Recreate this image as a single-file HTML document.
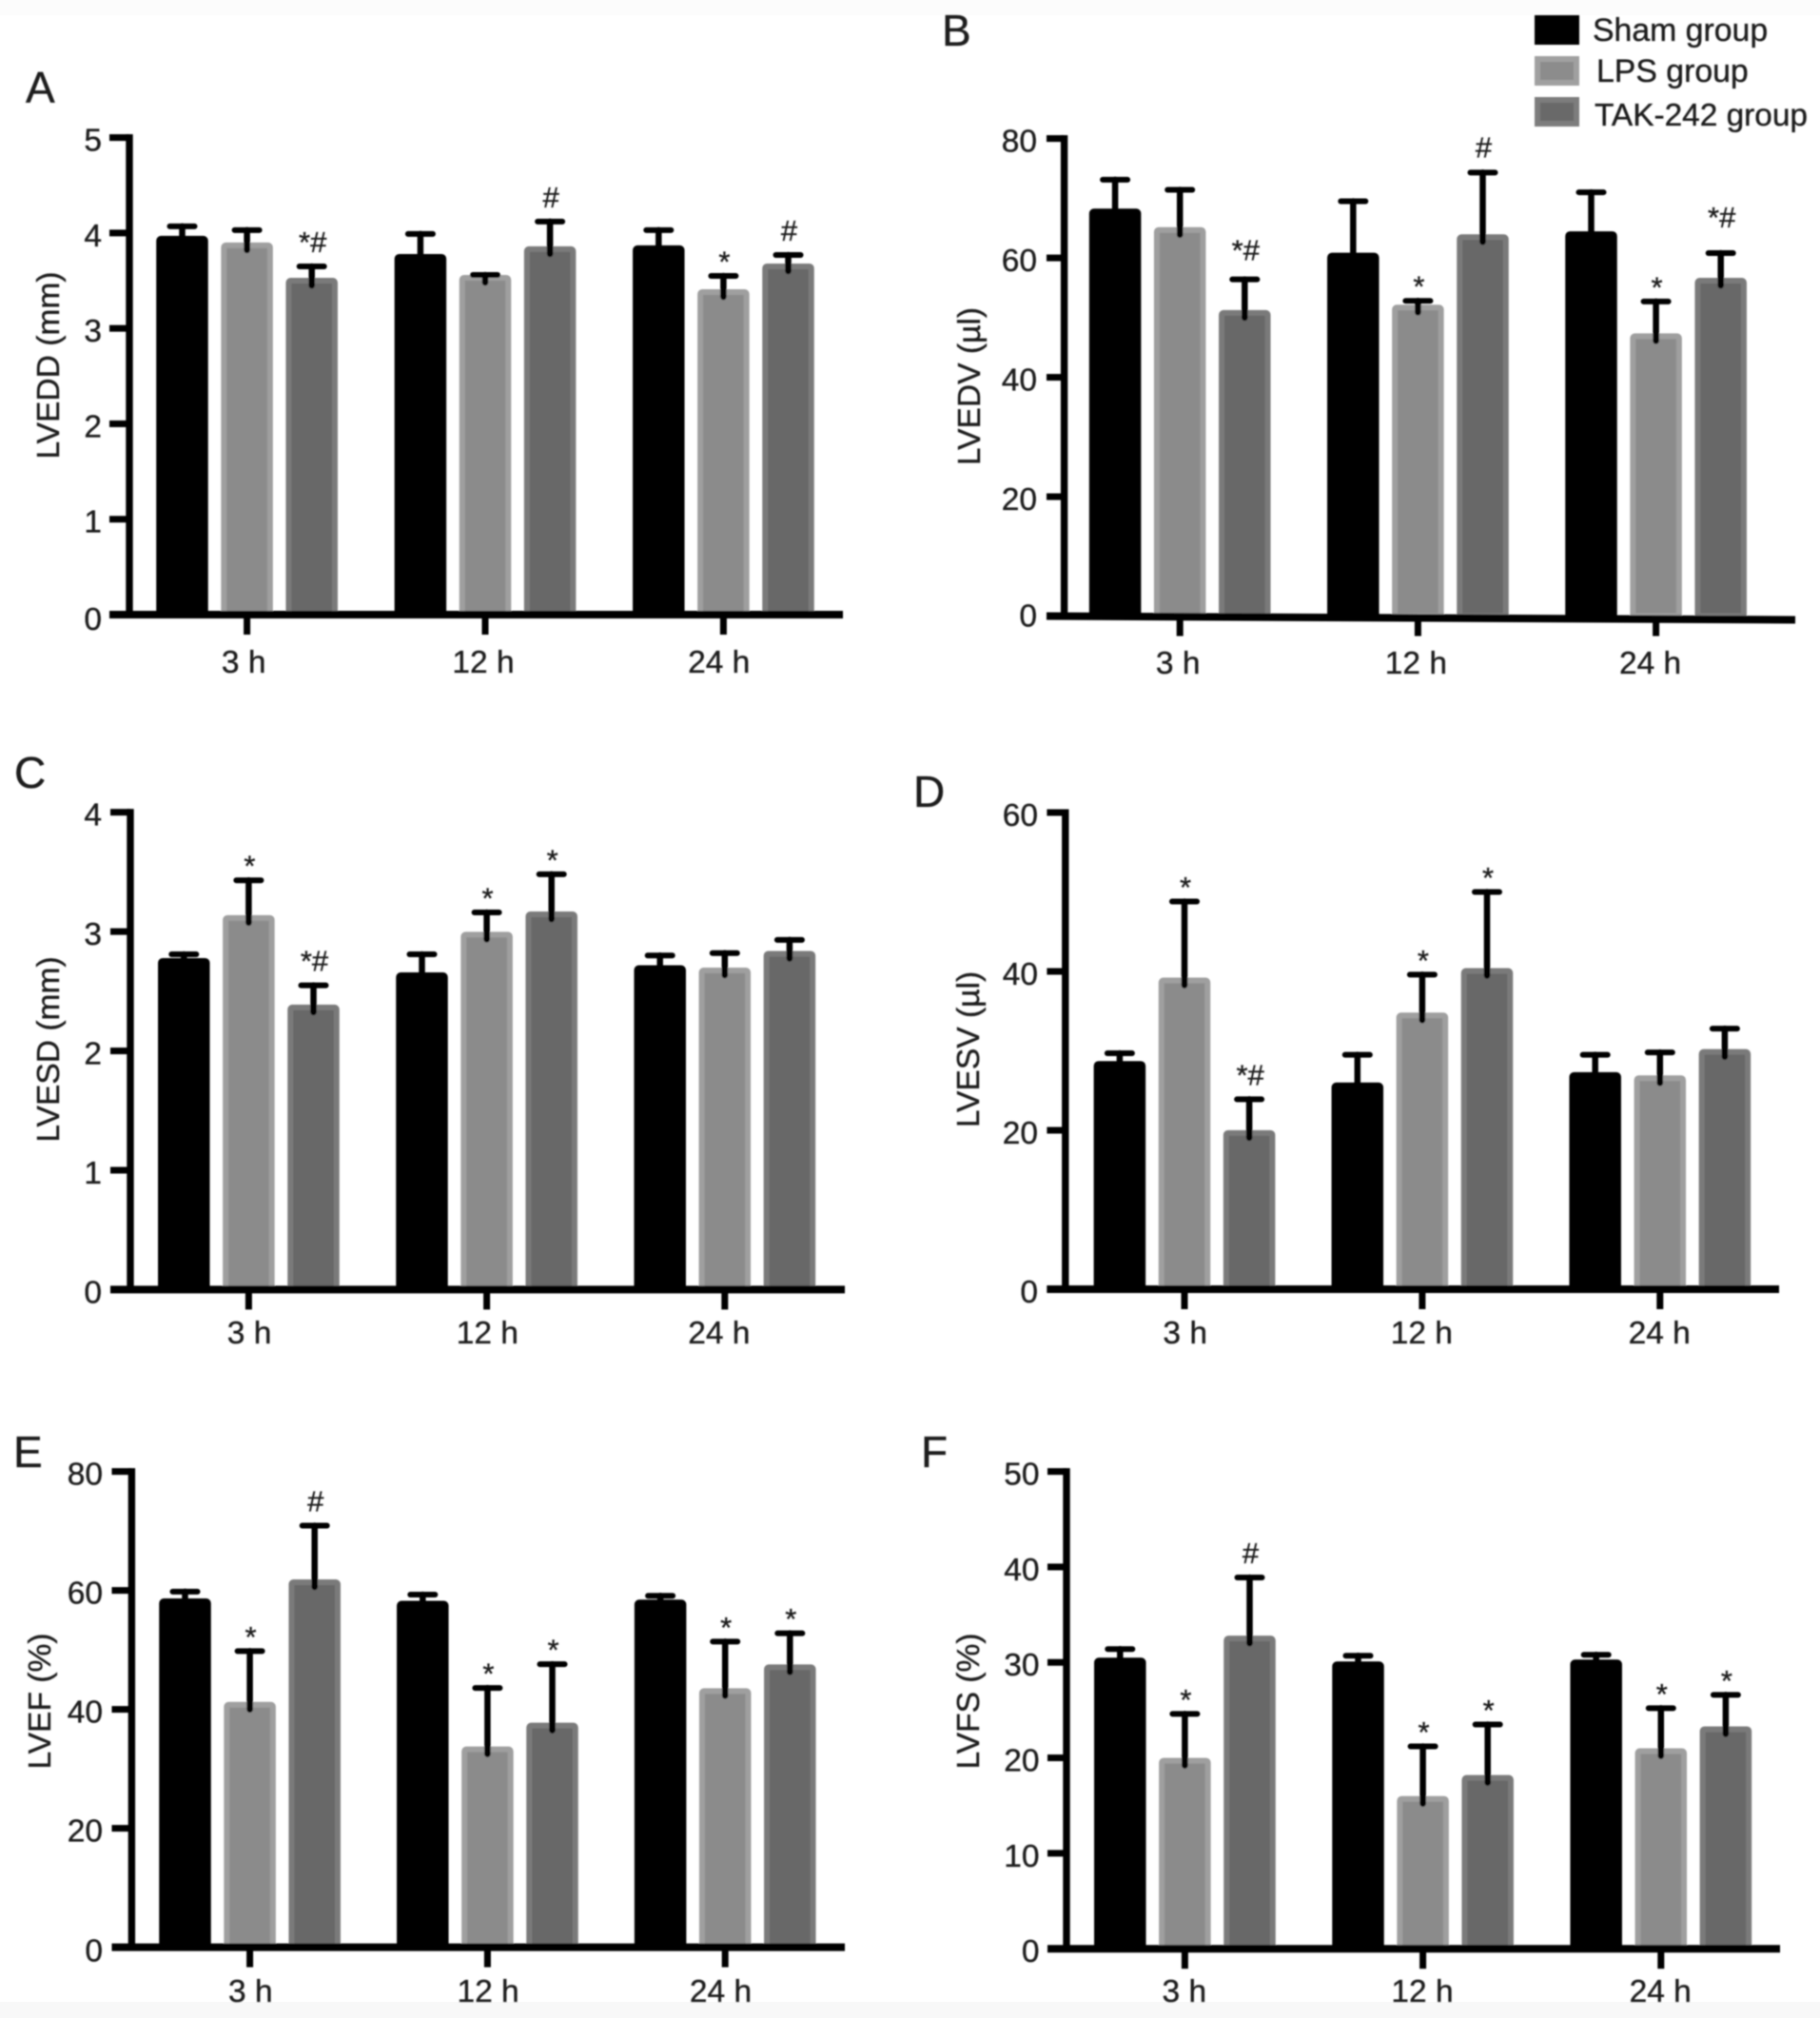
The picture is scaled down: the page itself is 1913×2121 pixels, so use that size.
<!DOCTYPE html>
<html lang="en">
<head>
<meta charset="utf-8">
<title>Echocardiographic parameters by group and time</title>
<style>
html,body{margin:0;padding:0;background:#fff;width:1913px;height:2121px;overflow:hidden}
svg{display:block}
text{font-family:"Liberation Sans",sans-serif;fill:#1a1a1a;stroke:#1a1a1a;stroke-width:0.35px}
</style>
</head>
<body>
<svg id="figure" xmlns="http://www.w3.org/2000/svg" width="1913" height="2121" viewBox="0 0 1913 2121">
<defs>
<filter id="soft" filterUnits="userSpaceOnUse" x="0" y="0" width="1913" height="2121"><feGaussianBlur stdDeviation="0.9"/></filter>
</defs>
<rect x="0" y="0" width="1913" height="2121" fill="#ffffff"/>
<rect x="0" y="0" width="1913" height="16" fill="#fcfcfc"/>
<rect x="0" y="2104" width="1913" height="17" fill="#f8f8f8"/>
<g id="root" filter="url(#soft)">
  <g font-size="46">
    <text x="27" y="108" font-size="46">A</text>
    <text x="990" y="48" font-size="46">B</text>
    <text x="15" y="828" font-size="46">C</text>
    <text x="960" y="848" font-size="46">D</text>
    <text x="14" y="1542" font-size="46">E</text>
    <text x="968" y="1542" font-size="46">F</text>
  </g>
  <g text-anchor="middle">
    <text transform="translate(62,384) rotate(-90)" font-size="33.6">LVEDD (mm)</text>
    <text transform="translate(1030,406) rotate(-90)" font-size="33.6">LVEDV (µl)</text>
    <text transform="translate(62,1103) rotate(-90)" font-size="33.6">LVESD (mm)</text>
    <text transform="translate(1029,1103) rotate(-90)" font-size="33.6">LVESV (µl)</text>
    <text transform="translate(53,1788) rotate(-90)" font-size="33.6">LVEF (%)</text>
    <text transform="translate(1029,1788) rotate(-90)" font-size="33.6">LVFS (%)</text>
  </g>
  <g>
    <g>
      <rect x="1613" y="16" width="47" height="31" fill="#000000"/>
      <text x="1674" y="43" font-size="33.8">Sham group</text>
    </g>
    <g>
      <rect x="1616" y="62" width="41" height="25" fill="#8c8c8c" stroke="#a0a0a0" stroke-width="6"/>
      <text x="1678" y="86" font-size="33.8">LPS group</text>
    </g>
    <g>
      <rect x="1616" y="105" width="41" height="25" fill="#696969" stroke="#7d7d7d" stroke-width="6"/>
      <text x="1676" y="132" font-size="33.4">TAK-242 group</text>
    </g>
  </g>
  <g id="charts"></g>
</g>
</svg>
<script>
// Shared categories and series
const categories = ['3 h', '12 h', '24 h'];
const seriesKeys = ['sham', 'lps', 'tak'];

// Panel A: LVEDD (mm)
const lveddTicks = [0, 1, 2, 3, 4, 5];
const lveddMeans = [[3.96, 3.89, 3.52], [3.77, 3.55, 3.85], [3.86, 3.40, 3.67]];
const lveddCaps = [[4.07, 4.03, 3.65], [3.99, 3.56, 4.12], [4.03, 3.55, 3.77]];
const lveddMarks = [['', '', '*#'], ['', '', '#'], ['', '*', '#']];

// Panel B: LVEDV (ul)
const lvedvTicks = [0, 20, 40, 60, 80];
const lvedvMeans = [[68.1, 65.0, 51.1], [60.7, 52.0, 63.8], [64.3, 47.2, 56.5]];
const lvedvCaps = [[73.1, 71.4, 56.4], [69.5, 52.8, 74.3], [71.0, 52.7, 60.8]];
const lvedvMarks = [['', '', '*#'], ['', '*', '#'], ['', '*', '*#']];

// Panel C: LVESD (mm)
const lvesdTicks = [0, 1, 2, 3, 4];
const lvesdMeans = [[2.77, 3.13, 2.38], [2.65, 2.99, 3.16], [2.71, 2.69, 2.83]];
const lvesdCaps = [[2.81, 3.43, 2.55], [2.81, 3.16, 3.48], [2.80, 2.82, 2.93]];
const lvesdMarks = [['', '*', '*#'], ['', '*', '*'], ['', '', '']];

// Panel D: LVESV (ul)
const lvesvTicks = [0, 20, 40, 60];
const lvesvMeans = [[28.6, 39.1, 19.9], [25.9, 34.7, 40.3], [27.2, 26.8, 30.1]];
const lvesvCaps = [[29.7, 48.8, 23.9], [29.5, 39.6, 50.0], [29.5, 29.8, 32.8]];
const lvesvMarks = [['', '*', '*#'], ['', '*', '*'], ['', '', '']];

// Panel E: LVEF (%)
const lvefTicks = [0, 20, 40, 60, 80];
const lvefMeans = [[58.5, 41.1, 61.7], [58.1, 33.6, 37.6], [58.3, 43.4, 47.4]];
const lvefCaps = [[59.8, 49.8, 70.9], [59.3, 43.6, 47.6], [59.1, 51.4, 52.8]];
const lvefMarks = [['', '*', '#'], ['', '*', '*'], ['', '*', '*']];

// Panel F: LVFS (%)
const lvfsTicks = [0, 10, 20, 30, 40, 50];
const lvfsMeans = [[30.4, 19.9, 32.7], [30.0, 15.9, 18.1], [30.2, 20.9, 23.2]];
const lvfsCaps = [[31.4, 24.6, 38.9], [30.7, 21.2, 23.5], [30.8, 25.2, 26.6]];
const lvfsMarks = [['', '*', '#'], ['', '*', '*'], ['', '*', '*']];

const NS = 'http://www.w3.org/2000/svg';
const barFill = {sham: '#000000', lps: '#8b8b8b', tak: '#686868'};
const barEdge = {sham: '#000000', lps: '#9f9f9f', tak: '#7a7a7a'};

function make(tag, attrs, parent) {
  const el = document.createElementNS(NS, tag);
  for (const k in attrs) el.setAttribute(k, attrs[k]);
  parent.appendChild(el);
  return el;
}

function drawPanel(cfg) {
  const host = document.getElementById('charts');
  const panel = make('g', {}, host);
  
  

  const maxVal = cfg.ticks[cfg.ticks.length - 1];
  const yScale = v => cfg.y0 - (v / maxVal) * (cfg.y0 - cfg.yTop);
  const xScale = i => cfg.cx + i * cfg.step;
  const pitch = 68.1, barW = 54.5;

  // bars + error bars + significance marks
  cfg.means.forEach((row, g) => {
    row.forEach((value, s) => {
      const key = seriesKeys[s];
      const cx = xScale(g) + (s - 1) * pitch;
      const top = yScale(value) - 1;
      const capY = yScale(cfg.caps[g][s]);

      const stem = make('line', {x1: cx, x2: cx, y1: top + (s === 0 ? 1 : 8), y2: capY, stroke: '#000', 'stroke-width': 6.5, 'stroke-linecap': 'round'}, panel);
      
      

      const cap = make('line', {x1: cx - 13, x2: cx + 13, y1: capY, y2: capY, stroke: '#000', 'stroke-width': 6, 'stroke-linecap': 'round'}, panel);
      
      

      const bar = make('rect', {x: cx - barW / 2 + 3, y: top + 3, width: barW - 6, height: Math.max(0, cfg.y0 - top - 3), rx: 2, fill: barFill[key], stroke: barEdge[key], 'stroke-width': 6}, panel);
      
      
      if (s !== 0) panel.insertBefore(bar, stem);

      const mark = cfg.marks[g][s];
      if (mark) {
        const baseDy = mark === '*' ? -4.5 : -15;
        const extra = (cfg.markShift && cfg.markShift[g + ',' + s]) || 0;
        const t = make('text', {x: cx + 1, y: capY + baseDy + extra, 'font-size': 31, 'text-anchor': 'middle'}, panel);
        
        
        t.textContent = mark;
      }
    });
  });

  // axes
  const yAxis = make('rect', {x: cfg.axisX - 3.7, y: cfg.yTop - 3.5, width: 7.4, height: cfg.y0 - cfg.yTop + 7, fill: '#000'}, panel);
  
  

  const xAxis = make('line', {x1: cfg.tickStart, x2: cfg.xEnd, y1: cfg.y0, y2: cfg.y0 + (cfg.tilt || 0), stroke: '#000', 'stroke-width': 8}, panel);
  
  

  cfg.ticks.forEach(v => {
    const y = yScale(v);
    const tick = make('rect', {x: cfg.tickStart, y: y - 3.5, width: cfg.axisX - cfg.tickStart, height: 7, fill: '#000'}, panel);
    
    
    const label = make('text', {x: cfg.labelRight, y: y + 14 + (v === 0 ? (cfg.zeroDy || 0) : 0), 'font-size': 33.5, 'text-anchor': 'end'}, panel);
    
    
    label.textContent = v;
  });

  categories.forEach((c, i) => {
    const x = xScale(i);
    const tick = make('rect', {x: x - 3.5, y: cfg.y0 + 3, width: 7, height: 18, fill: '#000'}, panel);
    
    
    const label = make('text', {x: x - 2 + cfg.labelDx[i], y: cfg.xLabelY, 'font-size': 33.5, 'text-anchor': 'middle'}, panel);
    
    
    label.textContent = c;
  });
}

drawPanel({name: 'lvedd', ticks: lveddTicks, means: lveddMeans, caps: lveddCaps, marks: lveddMarks,
  axisX: 136, tickStart: 115, xEnd: 886, yTop: 144.6, y0: 646, cx: 259.6, step: 250.4, labelRight: 107, xLabelY: 707, labelDx: [-1.4, 0, -2.7], zeroDy: 2});
drawPanel({name: 'lvedv', ticks: lvedvTicks, means: lvedvMeans, caps: lvedvCaps, marks: lvedvMarks,
  axisX: 1118.6, tickStart: 1100, xEnd: 1887, yTop: 145.6, y0: 647.5, tilt: 4, cx: 1240.2, step: 250.2, labelRight: 1090, xLabelY: 708, labelDx: [0, 0, -4], zeroDy: -3,
  markShift: {'0,2': -5, '1,2': -1, '2,2': -12}});
drawPanel({name: 'lvesd', ticks: lvesdTicks, means: lvesdMeans, caps: lvesdCaps, marks: lvesdMarks,
  axisX: 137, tickStart: 116, xEnd: 888, yTop: 853.7, y0: 1355.4, cx: 261.4, step: 250.2, labelRight: 107, xLabelY: 1412, labelDx: [2.7, 2.7, -4]});
drawPanel({name: 'lvesv', ticks: lvesvTicks, means: lvesvMeans, caps: lvesvCaps, marks: lvesvMarks,
  axisX: 1119.8, tickStart: 1100.4, xEnd: 1870, yTop: 854, y0: 1355, cx: 1245, step: 249.9, labelRight: 1091, xLabelY: 1412, labelDx: [2.7, 1.4, 1.4]});
drawPanel({name: 'lvef', ticks: lvefTicks, means: lvefMeans, caps: lvefCaps, marks: lvefMarks,
  axisX: 138.4, tickStart: 117.5, xEnd: 888, yTop: 1546.6, y0: 2046.6, cx: 262.6, step: 249.8, labelRight: 108, xLabelY: 2104, labelDx: [2.7, 2.7, -2.7], zeroDy: 1});
drawPanel({name: 'lvfs', ticks: lvfsTicks, means: lvfsMeans, caps: lvfsCaps, marks: lvfsMarks,
  axisX: 1121, tickStart: 1101, xEnd: 1871, yTop: 1546.6, y0: 2048.2, cx: 1245.4, step: 250.2, labelRight: 1092.5, xLabelY: 2104, labelDx: [1.4, 1.4, 1.4]});
</script>
</body>
</html>
